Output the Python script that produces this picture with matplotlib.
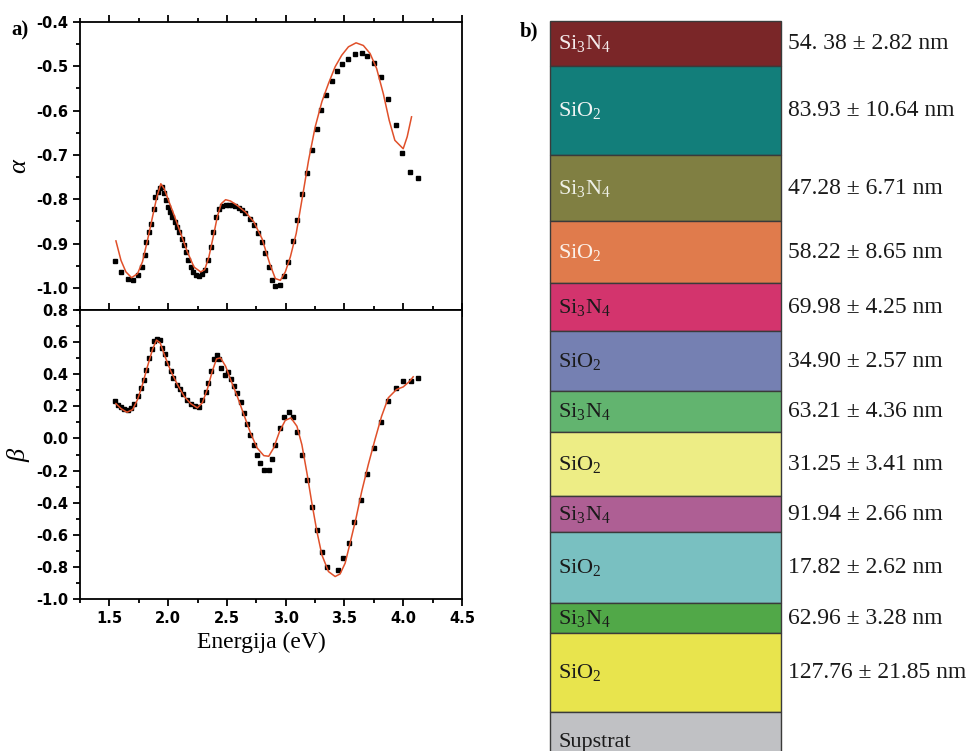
import matplotlib
matplotlib.use("Agg")
import matplotlib.pyplot as plt
from matplotlib.ticker import MultipleLocator

plt.rcParams["font.family"] = ["Liberation Serif", "DejaVu Serif"]
plt.rcParams["mathtext.fontset"] = "custom"
plt.rcParams["mathtext.rm"] = "Liberation Serif"
plt.rcParams["mathtext.it"] = "Liberation Serif:italic"

# --- panel a): measured (squares) and fitted (line) alpha / beta vs energy
alpha_meas_E = [1.551, 1.599, 1.655, 1.698, 1.740, 1.774, 1.802, 1.816, 1.839, 1.853,
                1.876, 1.890, 1.910, 1.929, 1.952, 1.966, 1.986, 2.003, 2.020, 2.037,
                2.056, 2.079, 2.093, 2.116, 2.136, 2.155, 2.172, 2.192, 2.212, 2.234,
                2.263, 2.285, 2.311, 2.339, 2.362, 2.384, 2.404, 2.432, 2.460, 2.489,
                2.517, 2.545, 2.573, 2.602, 2.630, 2.658, 2.695, 2.729, 2.763, 2.799,
                2.828, 2.856, 2.884, 2.912, 2.949, 2.983, 3.020, 3.062, 3.096, 3.138,
                3.181, 3.223, 3.266, 3.302, 3.345, 3.393, 3.435, 3.483, 3.534, 3.590,
                3.647, 3.695, 3.751, 3.811, 3.873, 3.935, 3.994, 4.062, 4.127]
alpha_meas = [-0.939, -0.964, -0.979, -0.983, -0.971, -0.953, -0.926, -0.896, -0.874, -0.856,
              -0.821, -0.795, -0.783, -0.774, -0.772, -0.786, -0.802, -0.817, -0.829, -0.840,
              -0.851, -0.862, -0.874, -0.889, -0.904, -0.919, -0.936, -0.953, -0.964, -0.971,
              -0.974, -0.969, -0.959, -0.938, -0.908, -0.874, -0.840, -0.821, -0.816, -0.814,
              -0.812, -0.814, -0.816, -0.819, -0.825, -0.832, -0.844, -0.859, -0.876, -0.896,
              -0.921, -0.953, -0.983, -0.996, -0.994, -0.974, -0.941, -0.895, -0.846, -0.789,
              -0.741, -0.688, -0.641, -0.599, -0.564, -0.533, -0.510, -0.494, -0.483, -0.473,
              -0.470, -0.477, -0.492, -0.524, -0.574, -0.633, -0.695, -0.738, -0.751]

alpha_fit_E = [1.556, 1.599, 1.641, 1.689, 1.740, 1.782, 1.825, 1.867, 1.904, 1.938,
               1.966, 2.008, 2.051, 2.107, 2.164, 2.220, 2.277, 2.311, 2.347, 2.390,
               2.418, 2.452, 2.489, 2.531, 2.588, 2.658, 2.729, 2.799, 2.864, 2.912,
               2.955, 2.997, 3.040, 3.090, 3.138, 3.195, 3.251, 3.308, 3.364, 3.421,
               3.477, 3.534, 3.599, 3.661, 3.718, 3.774, 3.831, 3.881, 3.929, 4.000,
               4.034, 4.071]
alpha_fit = [-0.894, -0.938, -0.964, -0.977, -0.968, -0.941, -0.892, -0.840, -0.795, -0.765,
             -0.776, -0.806, -0.836, -0.877, -0.919, -0.953, -0.964, -0.959, -0.930, -0.877,
             -0.840, -0.810, -0.801, -0.804, -0.814, -0.829, -0.851, -0.889, -0.945, -0.979,
             -0.983, -0.964, -0.930, -0.877, -0.802, -0.712, -0.637, -0.580, -0.539, -0.501,
             -0.475, -0.456, -0.447, -0.453, -0.471, -0.505, -0.562, -0.622, -0.667, -0.686,
             -0.659, -0.614]

beta_meas_E = [1.551, 1.576, 1.599, 1.627, 1.655, 1.684, 1.712, 1.740, 1.768, 1.791,
               1.811, 1.839, 1.859, 1.881, 1.904, 1.929, 1.952, 1.972, 1.994, 2.023,
               2.045, 2.073, 2.102, 2.130, 2.158, 2.192, 2.226, 2.263, 2.291, 2.319,
               2.339, 2.367, 2.390, 2.412, 2.432, 2.452, 2.480, 2.508, 2.531, 2.559,
               2.588, 2.616, 2.644, 2.667, 2.695, 2.729, 2.757, 2.785, 2.819, 2.856,
               2.884, 2.912, 2.949, 2.989, 3.025, 3.062, 3.096, 3.138, 3.181, 3.223,
               3.266, 3.308, 3.350, 3.444, 3.492, 3.540, 3.585, 3.641, 3.695, 3.751,
               3.808, 3.873, 3.938, 4.000, 4.065, 4.130]
beta_meas = [0.232, 0.211, 0.197, 0.184, 0.180, 0.190, 0.217, 0.263, 0.315, 0.367,
             0.425, 0.502, 0.559, 0.606, 0.617, 0.611, 0.565, 0.523, 0.471, 0.419,
             0.378, 0.336, 0.305, 0.274, 0.242, 0.217, 0.201, 0.197, 0.242, 0.288,
             0.346, 0.419, 0.492, 0.519, 0.492, 0.436, 0.398, 0.413, 0.371, 0.326,
             0.280, 0.226, 0.159, 0.093, 0.024, -0.043, -0.101, -0.153, -0.195, -0.199,
             -0.128, -0.039, 0.065, 0.134, 0.163, 0.134, 0.041, -0.101, -0.257, -0.428,
             -0.573, -0.709, -0.802, -0.819, -0.746, -0.652, -0.523, -0.386, -0.220, -0.059,
             0.101, 0.232, 0.315, 0.357, 0.357, 0.378]

beta_fit_E = [1.556, 1.599, 1.650, 1.698, 1.740, 1.782, 1.825, 1.867, 1.901, 1.932,
              1.972, 2.023, 2.079, 2.136, 2.192, 2.249, 2.291, 2.333, 2.376, 2.412,
              2.446, 2.489, 2.531, 2.588, 2.644, 2.701, 2.757, 2.814, 2.856, 2.898,
              2.949, 2.997, 3.045, 3.096, 3.138, 3.181, 3.223, 3.266, 3.308, 3.364,
              3.421, 3.463, 3.506, 3.548, 3.599, 3.647, 3.703, 3.760, 3.816, 3.873,
              3.943, 4.000, 4.056, 4.085]
beta_fit = [0.217, 0.186, 0.163, 0.180, 0.242, 0.336, 0.450, 0.554, 0.613, 0.596,
            0.513, 0.419, 0.336, 0.263, 0.217, 0.190, 0.222, 0.305, 0.419, 0.496,
            0.502, 0.450, 0.367, 0.263, 0.149, 0.034, -0.059, -0.107, -0.111, -0.059,
            0.045, 0.113, 0.128, 0.076, -0.039, -0.215, -0.403, -0.580, -0.725, -0.829,
            -0.860, -0.844, -0.777, -0.652, -0.496, -0.330, -0.163, -0.007, 0.138, 0.253,
            0.305, 0.321, 0.357, 0.384]

# --- panel b): layer stack (drawn heights as read off the picture)
layer_names = ["Si$_3$N$_4$", "SiO$_2$"] * 6 + ["Supstrat"]
layer_heights = [45, 89, 66, 62, 48, 60, 41, 64, 36, 71, 30, 79, 60]
layer_colors = ["#7a2628", "#127e7a", "#807f42", "#e07b4c", "#d3346d", "#7580b2",
                "#62b46f", "#eded85", "#ae5f94", "#79c0c1", "#51a848", "#e8e44d",
                "#c0c1c4"]
layer_text_colors = ["#f4ecec", "#f0f4f4", "#eef0e6", "#fbf1ea"] + ["#1a1a1a"] * 9
thickness_labels = ["54. 38 ± 2.82 nm", "83.93 ± 10.64 nm", "47.28 ± 6.71 nm",
                    "58.22 ± 8.65 nm", "69.98 ± 4.25 nm", "34.90 ± 2.57 nm",
                    "63.21 ± 4.36 nm", "31.25 ± 3.41 nm", "91.94 ± 2.66 nm",
                    "17.82 ± 2.62 nm", "62.96 ± 3.28 nm", "127.76 ± 21.85 nm"]

RED = "#e0502a"
TICKFONT = dict(family="DejaVu Sans", weight="bold", size=10.5)


def style_axis(ax, ymajor, yminor):
    ax.set_xlim(1.25, 4.5)
    ax.xaxis.set_major_locator(MultipleLocator(0.5))
    ax.xaxis.set_minor_locator(MultipleLocator(0.25))
    ax.yaxis.set_major_locator(MultipleLocator(ymajor))
    ax.yaxis.set_minor_locator(MultipleLocator(yminor))
    ax.tick_params(which="both", direction="out", width=1.3,
                   top=True, bottom=True, right=False, left=True)
    ax.tick_params(which="major", length=5)
    ax.tick_params(which="minor", length=3)
    for sp in ax.spines.values():
        sp.set_linewidth(1.3)


fig = plt.figure(figsize=(9.74, 7.51), dpi=100)

ax1 = fig.add_axes([0.0821, 0.5872, 0.3922, 0.3835])
ax1.plot(alpha_meas_E, alpha_meas, "s", color="black", ms=2.8, zorder=2)
ax1.plot(alpha_fit_E, alpha_fit, "-", color=RED, lw=1.1, zorder=3)
ax1.set_ylim(-1.05, -0.4)
style_axis(ax1, 0.1, 0.05)
ax1.set_yticks([-1.0, -0.9, -0.8, -0.7, -0.6, -0.5, -0.4])
ax1.set_yticklabels(["%.1f" % v for v in ax1.get_yticks()], **TICKFONT)
ax1.tick_params(axis="x", labelbottom=False)
ax1.set_ylabel(r"$\alpha$", fontsize=19)
ax1.yaxis.set_label_coords(-0.128, 0.5)

ax2 = fig.add_axes([0.0821, 0.2024, 0.3922, 0.3848])
ax2.plot(beta_meas_E, beta_meas, "s", color="black", ms=2.8, zorder=2)
ax2.plot(beta_fit_E, beta_fit, "-", color=RED, lw=1.1, zorder=3)
ax2.set_ylim(-1.0, 0.8)
style_axis(ax2, 0.2, 0.1)
ax2.set_yticks([-1.0, -0.8, -0.6, -0.4, -0.2, 0.0, 0.2, 0.4, 0.6, 0.8])
ax2.set_yticklabels(["%.1f" % v for v in ax2.get_yticks()], **TICKFONT)
ax2.set_xticks([1.5, 2.0, 2.5, 3.0, 3.5, 4.0, 4.5])
ax2.set_xticklabels(["%.1f" % v for v in ax2.get_xticks()], **TICKFONT)
ax2.set_ylabel(r"$\beta$", fontsize=19)
ax2.yaxis.set_label_coords(-0.125, 0.5)
ax2.set_xlabel("Energija (eV)", fontsize=17, va="top")
ax2.xaxis.set_label_coords(0.476, -0.112)

fig.text(0.012, 0.96, "a)", fontsize=15, weight="bold", va="center")
fig.text(0.534, 0.958, "b)", fontsize=15, weight="bold", va="center")

# layer stack
ax3 = fig.add_axes([0.5647, 0.0, 0.2372, 0.972])
ax3.set_xlim(0, 1)
ax3.set_ylim(730, 0)
ax3.axis("off")
bottom = 0
for i, (name, h, col) in enumerate(zip(layer_names, layer_heights, layer_colors)):
    ax3.bar(0.5, h, bottom=bottom, width=1.0, color=col, edgecolor="#3a3a3a",
            linewidth=1.0, clip_on=False)
    mid = bottom + h / 2
    ax3.text(0.035, mid, name, color=layer_text_colors[i], fontsize=16,
             va="center", ha="left")
    if i < len(thickness_labels):
        ax3.text(1.03, mid, thickness_labels[i], color="#1a1a1a", fontsize=17,
                 va="center", ha="left", clip_on=False)
    bottom += h

fig.savefig("out.png", dpi=100)
